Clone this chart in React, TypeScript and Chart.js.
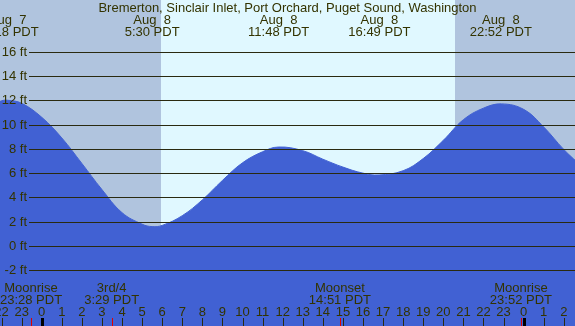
import React, { useEffect, useRef } from "react";
import { Chart, registerables } from "chart.js";

Chart.register(...registerables);

const title = "Bremerton, Sinclair Inlet, Port Orchard, Puget Sound, Washington";

// Tide height (ft), hours relative to Aug 8 00:00 PDT
const tideHours = [-3, -2, -1.7, -1, 0, 1, 2, 3, 4, 5, 5.5, 6, 7, 8, 9, 10, 11, 11.8, 13, 14, 15, 16, 16.8, 18, 19, 20, 21, 22, 22.9, 24, 25, 26, 27];
const tideFeet = [11.3, 11.95, 12.0, 11.75, 10.6, 8.9, 6.8, 4.65, 2.75, 1.8, 1.6, 1.7, 2.5, 3.8, 5.4, 6.85, 7.76, 8.15, 7.85, 7.15, 6.5, 6.0, 5.85, 6.2, 7.2, 8.7, 10.4, 11.35, 11.7, 11.25, 9.8, 7.95, 6.4];

// Tide event labels at top
const eventHours = [-1.7, 5.5, 11.8, 16.817, 22.867];
const eventDays = ["Aug  7", "Aug  8", "Aug  8", "Aug  8", "Aug  8"];
const eventTimes = ["22:18 PDT", "5:30 PDT", "11:48 PDT", "16:49 PDT", "22:52 PDT"];

// Moon events at bottom
const moonHours = [-0.533, 3.483, 14.85, 23.867];
const moonNames = ["Moonrise", "3rd/4", "Moonset", "Moonrise"];
const moonTimes = ["23:28 PDT", "3:29 PDT", "14:51 PDT", "23:52 PDT"];

// Sun
const sunriseHour = 5.93;
const sunsetHour = 20.58;

// Axes
const yTicks = [-2, 0, 2, 4, 6, 8, 10, 12, 14, 16];
const hourTicks = [-2, -1, 0, 1, 2, 3, 4, 5, 6, 7, 8, 9, 10, 11, 12, 13, 14, 15, 16, 17, 18, 19, 20, 21, 22, 23, 24, 25, 26];
const hourLabels = ["22", "23", "0", "1", "2", "3", "4", "5", "6", "7", "8", "9", "10", "11", "12", "13", "14", "15", "16", "17", "18", "19", "20", "21", "22", "23", "0", "1", "2"];
const midnightHours = [0, 24];

const X_MIN = -2.077;
const X_MAX = 26.559;
const Y_MIN = -6.58;
const Y_MAX = 20.25;

const NIGHT = "#b0c4de";
const DAY = "#e0f8ff";
const WATER = "#4161d3";
const INK = "#333300";
const FONT = '13px "Liberation Sans", Arial, sans-serif';

export default function App() {
  const ref = useRef<HTMLCanvasElement | null>(null);

  useEffect(() => {
    document.body.style.margin = "0";
    const canvas = ref.current;
    if (!canvas) return;

    const decor = {
      id: "decor",
      beforeDraw(chart: any) {
        const ctx = chart.ctx;
        const xs = chart.scales.x;
        const W = chart.width;
        const H = chart.height;
        const sr = xs.getPixelForValue(sunriseHour);
        const ss = xs.getPixelForValue(sunsetHour);
        ctx.save();
        ctx.fillStyle = NIGHT;
        ctx.fillRect(0, 0, W, H);
        ctx.fillStyle = DAY;
        ctx.fillRect(Math.round(sr), 0, Math.round(ss) - Math.round(sr), H);
        ctx.restore();
      },
      afterDatasetsDraw(chart: any) {
        const ctx = chart.ctx;
        const xs = chart.scales.x;
        const ys = chart.scales.y;
        const W = chart.width;
        const H = chart.height;
        ctx.save();
        // grid lines + y labels
        ctx.strokeStyle = "#2a2a10";
        ctx.lineWidth = 1;
        ctx.font = FONT;
        ctx.fillStyle = INK;
        ctx.textAlign = "right";
        ctx.textBaseline = "middle";
        yTicks.forEach((v) => {
          const y = Math.round(ys.getPixelForValue(v)) + 0.5;
          ctx.beginPath();
          ctx.moveTo(29, y);
          ctx.lineTo(W, y);
          ctx.stroke();
          ctx.fillText(v + " ft", 27, y);
        });
        // title & tide events
        ctx.textAlign = "center";
        ctx.textBaseline = "alphabetic";
        ctx.fillText(title, W / 2, 11.5);
        eventHours.forEach((h, i) => {
          const x = xs.getPixelForValue(h);
          ctx.fillText(eventDays[i], x, 23.5);
          ctx.fillText(eventTimes[i], x, 35.5);
        });
        // moon events
        moonHours.forEach((h, i) => {
          const x = xs.getPixelForValue(h);
          ctx.fillText(moonNames[i], x, 291.5);
          ctx.fillText(moonTimes[i], x, 303.5);
        });
        // hour labels & ticks
        hourTicks.forEach((h, i) => {
          const x = xs.getPixelForValue(h);
          ctx.fillText(hourLabels[i], x, 315.5);
          ctx.beginPath();
          ctx.moveTo(Math.round(x) + 0.5, 318);
          ctx.lineTo(Math.round(x) + 0.5, H);
          ctx.stroke();
        });
        ctx.fillStyle = "#e00000";
        moonHours.forEach((h) => {
          const x = Math.round(xs.getPixelForValue(h));
          ctx.fillRect(x, 318, 1, H - 318);
        });
        ctx.fillStyle = "#000000";
        midnightHours.forEach((h) => {
          const x = Math.round(xs.getPixelForValue(h));
          ctx.fillRect(x - 1, 318, 3, H - 318);
        });
        ctx.restore();
      },
    };

    const chart = new Chart(canvas, {
      type: "line",
      data: {
        datasets: [
          {
            data: tideHours.map((h, i) => ({ x: h, y: tideFeet[i] })),
            borderColor: WATER,
            borderWidth: 1,
            backgroundColor: WATER,
            fill: "start",
            pointRadius: 0,
            tension: 0.4,
          },
        ],
      },
      options: {
        animation: false,
        responsive: true,
        maintainAspectRatio: false,
        layout: { padding: 0 },
        plugins: { legend: { display: false }, tooltip: { enabled: false } },
        scales: {
          x: { type: "linear", min: X_MIN, max: X_MAX, display: false },
          y: { type: "linear", min: Y_MIN, max: Y_MAX, display: false },
        },
      },
      plugins: [decor],
    });
    return () => chart.destroy();
  }, []);

  return (
    <div style={{ position: "relative", width: 575, height: 326 }}>
      <canvas ref={ref} />
    </div>
  );
}
